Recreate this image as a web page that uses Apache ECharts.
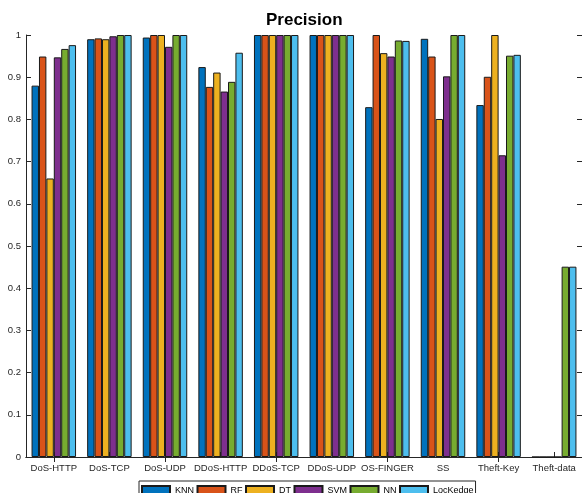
<!DOCTYPE html>
<html>
<head>
<meta charset="utf-8">
<script src="https://cdn.jsdelivr.net/npm/echarts@6/dist/echarts.min.js"></script>
<style>
  html, body { margin: 0; padding: 0; background: #fff; }
  #chart { width: 582px; height: 493px; }
</style>
</head>
<body>
<div id="chart"></div>
<script>
// Attack categories along the x axis
const categories = ['DoS-HTTP', 'DoS-TCP', 'DoS-UDP', 'DDoS-HTTP', 'DDoS-TCP',
                    'DDoS-UDP', 'OS-FINGER', 'SS', 'Theft-Key', 'Theft-data'];

// Precision per classifier
const knn      = [0.880, 0.990, 0.994, 0.924, 1.000, 1.000, 0.829, 0.991, 0.834, 0.000];
const rf       = [0.949, 0.992, 1.000, 0.877, 1.000, 1.000, 1.000, 0.949, 0.901, 0.000];
const dt       = [0.660, 0.990, 1.000, 0.911, 1.000, 1.000, 0.957, 0.801, 1.000, 0.000];
const svm      = [0.947, 0.997, 0.972, 0.866, 1.000, 1.000, 0.949, 0.902, 0.715, 0.000];
const nn       = [0.967, 1.000, 1.000, 0.889, 1.000, 1.000, 0.987, 1.000, 0.951, 0.451];
const lockedge = [0.976, 1.000, 1.000, 0.958, 1.000, 1.000, 0.986, 1.000, 0.953, 0.451];

const seriesNames = ['KNN', 'RF', 'DT', 'SVM', 'NN', 'LocKedge'];
const seriesData = [knn, rf, dt, svm, nn, lockedge];
const palette = ['#0072BD', '#D95319', '#EDB120', '#7E2F8E', '#77AC30', '#4DBEEE'];

// y-axis tick labels
const yTicks = ['0', '0.1', '0.2', '0.3', '0.4', '0.5', '0.6', '0.7', '0.8', '0.9', '1'];

const FONT = '"Liberation Sans", Arial, Helvetica, sans-serif';
const AXIS_COLOR = '#262626';

const chart = echarts.init(document.getElementById('chart'), null, { renderer: 'canvas' });

const tickStyle = { show: true, inside: true, length: 5, lineStyle: { color: AXIS_COLOR, width: 1 } };
const lineStyle = { show: true, lineStyle: { color: AXIS_COLOR, width: 1 } };

const option = {
  animation: false,
  backgroundColor: '#fff',
  textStyle: { fontFamily: FONT },
  title: {
    text: 'Precision',
    left: 266,
    top: 12,
    padding: 0,
    textStyle: { fontFamily: FONT, fontSize: 17, fontWeight: 'bold', color: '#000' }
  },
  legend: {
    data: seriesNames,
    orient: 'horizontal',
    icon: 'rect',
    left: 139,
    top: 481,
    itemWidth: 28,
    itemHeight: 10,
    itemGap: 2.5,
    padding: [4, 2, 4, 2],
    borderColor: AXIS_COLOR,
    borderWidth: 1,
    backgroundColor: '#fff',
    textStyle: { fontFamily: FONT, fontSize: 9, color: '#000' }
  },
  grid: { left: 26, top: 35, width: 557, height: 422, containLabel: false },
  xAxis: [
    {
      type: 'category',
      data: categories,
      position: 'bottom',
      axisLine: lineStyle,
      axisTick: Object.assign({ alignWithLabel: true }, tickStyle),
      axisLabel: { color: AXIS_COLOR, fontSize: 9.5, fontFamily: FONT, margin: 6, interval: 0 },
      splitLine: { show: false }
    },
    {
      type: 'category',
      data: categories,
      position: 'top',
      axisLine: lineStyle,
      axisTick: Object.assign({ alignWithLabel: true }, tickStyle),
      axisLabel: { show: false },
      splitLine: { show: false }
    }
  ],
  yAxis: [
    {
      type: 'value',
      min: 0,
      max: 1,
      interval: 0.1,
      position: 'left',
      axisLine: lineStyle,
      axisTick: tickStyle,
      axisLabel: {
        color: AXIS_COLOR, fontSize: 9.5, fontFamily: FONT, margin: 5,
        formatter: (v) => yTicks[Math.round(v * 10)]
      },
      splitLine: { show: false }
    },
    {
      type: 'value',
      min: 0,
      max: 1,
      interval: 0.1,
      position: 'right',
      axisLine: { show: false },
      axisTick: tickStyle,
      axisLabel: { show: false },
      splitLine: { show: false }
    }
  ],
  series: seriesNames.map((name, i) => ({
    name: name,
    type: 'bar',
    xAxisIndex: 0,
    yAxisIndex: 0,
    data: seriesData[i],
    barGap: '0%',
    barCategoryGap: '20%',
    itemStyle: { color: palette[i], borderColor: '#1a1a1a', borderWidth: 1 }
  }))
};

chart.setOption(option);
</script>
</body>
</html>
